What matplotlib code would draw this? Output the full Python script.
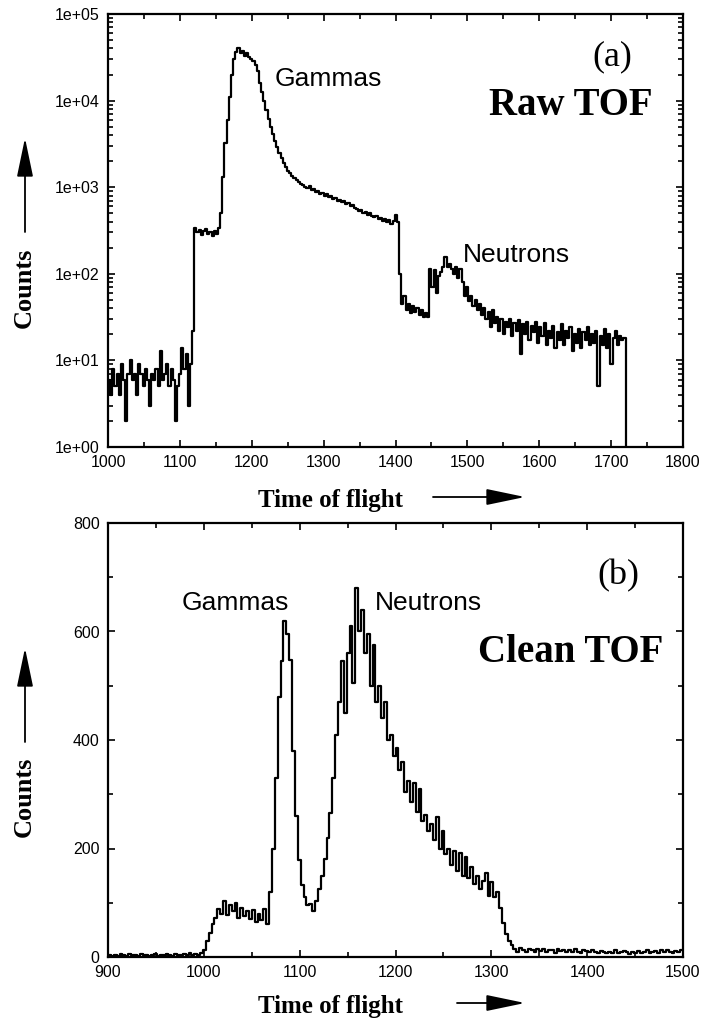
import numpy as np
import matplotlib
matplotlib.use('Agg')
import matplotlib.pyplot as plt
from matplotlib.ticker import MultipleLocator, LogLocator, NullFormatter, FuncFormatter
from matplotlib.patches import FancyArrowPatch

# ---- raw TOF spectrum (log scale), bins of 3 channels starting at 1000 ----
raw_start = 1000
raw_width = 3
raw_counts = [
    6, 4, 8, 5, 7, 4, 9, 6, 2, 7,                      # 1000
    10, 6, 7, 4, 9, 7, 5, 8, 6, 3,                     # 1030
    7, 6, 8, 5, 13, 6, 7, 9, 5, 8,                     # 1060
    6, 2, 5, 7, 14, 8, 12, 3, 9, 22,                   # 1090
    340, 300, 320, 280, 310, 330, 290, 300, 270, 310,  # 1120
    290, 340, 500, 1300, 3200, 6000, 11000, 20000, 30000, 36000,       # 1150
    40000, 35000, 37000, 33000, 35000, 32000, 30000, 29000, 26000, 22000,  # 1180
    16000, 12500, 10000, 7800, 6200, 5000, 4100, 3400, 2900, 2450,     # 1210
    2150, 1900, 1700, 1550, 1450, 1350, 1270, 1200, 1150, 1100,        # 1240
    1060, 1010, 990, 1020, 930, 950, 880, 900, 840, 860,               # 1270
    800, 830, 770, 790, 740, 760, 700, 720, 670, 690,                  # 1300
    640, 660, 610, 620, 570, 560, 530, 550, 500, 520,                  # 1330
    480, 510, 460, 450, 470, 430, 440, 410, 430, 400,                  # 1360
    420, 380, 410, 480, 400, 100, 45, 55, 38, 45,                      # 1390
    35, 42, 36, 40, 33, 38, 32, 35, 32, 115,                           # 1420
    70, 110, 60, 95, 105, 120, 155, 120, 130, 115,                     # 1450
    100, 120, 90, 115, 80, 55, 70, 48, 55, 42,                         # 1480
    50, 38, 45, 33, 40, 30, 36, 24, 38, 27,                            # 1510
    32, 22, 30, 20, 28, 24, 30, 19, 27, 22,                            # 1540
    29, 12, 26, 20, 28, 17, 25, 21, 28, 16,                            # 1570
    24, 19, 27, 15, 22, 18, 25, 14, 21, 17,                            # 1600
    26, 15, 22, 18, 24, 13, 20, 16, 23, 14,                            # 1630
    21, 17, 24, 15, 20, 16, 22, 5, 19, 15,                             # 1660
    23, 14, 20, 9, 18, 22, 15, 19, 17, 18,                             # 1690
    0,                                                                 # 1720
]

# ---- clean TOF spectrum (linear scale), bins of 3 channels starting at 900 ----
clean_start = 900
clean_width = 3
clean_counts = [
    3, 1, 4, 2, 5, 3, 2, 6, 3, 4,                      # 900
    2, 5, 3, 4, 1, 3, 5, 2, 4, 3,                      # 930
    5, 3, 2, 6, 4, 3, 5, 4, 7, 3,                      # 960
    6, 4, 8, 12, 30, 45, 60, 72, 88, 80,               # 990
    104, 78, 96, 84, 100, 72, 90, 76, 84, 70,          # 1020
    86, 64, 80, 68, 88, 60, 120, 200, 330, 480,        # 1050
    545, 620, 595, 548, 380, 260, 178, 132, 110, 96,   # 1080
    98, 85, 104, 125, 150, 180, 220, 265, 330, 410,    # 1110
    470, 545, 450, 560, 610, 505, 680, 600, 640, 560,  # 1140
    595, 500, 575, 470, 500, 440, 470, 400, 410, 370,  # 1170
    385, 345, 360, 305, 325, 285, 320, 268, 310, 250,  # 1200
    262, 232, 245, 215, 258, 200, 232, 190, 200, 170,  # 1230
    195, 158, 192, 150, 185, 145, 165, 135, 150, 125,  # 1260
    140, 155, 112, 138, 110, 120, 90, 62, 42, 30,      # 1290
    22, 14, 10, 16, 12, 9, 15, 13, 10, 14,             # 1320
    11, 15, 9, 13, 12, 8, 14, 11, 13, 10,              # 1350
    12, 9, 14, 10, 8, 12, 11, 9, 13, 10,               # 1380
    8, 11, 9, 7, 10, 8, 12, 7, 9, 11,                  # 1410
    9, 6, 10, 8, 11, 7, 9, 12, 8, 10,                  # 1440
    11, 8, 13, 9, 12, 10, 8, 11, 9, 12,                # 1470
]

W, H = 703, 1021
plt.rcParams['font.family'] = ['Liberation Sans', 'DejaVu Sans']
SERIF = ['Liberation Serif', 'DejaVu Serif']


def fx(px):
    return px / W


def fy(py):
    return 1 - py / H


def draw_hist(ax, start, width, counts):
    counts = np.asarray(counts, dtype=float)
    edges = start + width * np.arange(len(counts) + 1)
    ax.step(edges, np.append(counts, counts[-1]), where='post', color='k', lw=1.6)


def style_axes(ax):
    for sp in ax.spines.values():
        sp.set_linewidth(1.6)
    ax.tick_params(which='both', direction='in', top=True, right=True,
                   width=1.2, labelsize=11.5, colors='k')
    ax.tick_params(which='major', length=5)
    ax.tick_params(which='minor', length=3.5)
    ax.tick_params(axis='y', pad=6)
    ax.tick_params(axis='x', pad=6)


fig = plt.figure(figsize=(7.03, 10.21), dpi=100)

# panel (a): raw spectrum
axa = fig.add_axes([fx(108), fy(447), (683 - 108) / W, (447 - 14) / H])
draw_hist(axa, raw_start, raw_width, raw_counts)
axa.set_yscale('log')
axa.set_xlim(1000, 1800)
axa.set_ylim(1, 1e5)
axa.xaxis.set_major_locator(MultipleLocator(100))
axa.xaxis.set_minor_locator(MultipleLocator(50))
axa.yaxis.set_major_locator(LogLocator(base=10, numticks=10))
axa.yaxis.set_minor_locator(LogLocator(base=10, subs=np.arange(2, 10), numticks=20))
axa.yaxis.set_major_formatter(FuncFormatter(lambda v, p: f"{v:.0e}"))
axa.yaxis.set_minor_formatter(NullFormatter())
style_axes(axa)

# panel (b): cleaned spectrum
axb = fig.add_axes([fx(108), fy(957), (683 - 108) / W, (957 - 523) / H])
draw_hist(axb, clean_start, clean_width, clean_counts)
axb.set_xlim(900, 1500)
axb.set_ylim(0, 800)
axb.xaxis.set_major_locator(MultipleLocator(100))
axb.xaxis.set_minor_locator(MultipleLocator(50))
axb.yaxis.set_major_locator(MultipleLocator(200))
axb.yaxis.set_minor_locator(MultipleLocator(100))
style_axes(axb)

# annotations
fig.text(fx(275), fy(86), 'Gammas', fontsize=19, va='baseline', ha='left')
fig.text(fx(463), fy(262), 'Neutrons', fontsize=19, va='baseline', ha='left')
fig.text(fx(612), fy(65), '(a)', fontsize=26, family=SERIF, va='baseline', ha='center')
fig.text(fx(571), fy(115), 'Raw TOF', fontsize=28, family=SERIF, weight='bold',
         va='baseline', ha='center')

fig.text(fx(182), fy(610), 'Gammas', fontsize=19, va='baseline', ha='left')
fig.text(fx(375), fy(610), 'Neutrons', fontsize=19, va='baseline', ha='left')
fig.text(fx(618), fy(584), '(b)', fontsize=26, family=SERIF, va='baseline', ha='center')
fig.text(fx(571), fy(662), 'Clean TOF', fontsize=28, family=SERIF, weight='bold',
         va='baseline', ha='center')

# axis labels with arrows
for cy, ay0, ay1, by, bx0, bx1 in [(288, 232, 138, 507, 433, 525),
                                    (797, 742, 648, 1013, 457, 525)]:
    fig.text(fx(24), fy(cy), 'Counts', fontsize=19, family=SERIF, weight='bold',
             rotation=90, va='center', ha='center')
    fig.text(fx(258), fy(by), 'Time of flight', fontsize=18, family=SERIF, weight='bold',
             va='baseline', ha='left')
    for p0, p1 in [((fx(25), fy(ay0)), (fx(25), fy(ay1))),
                   ((fx(bx0), fy(by - 10)), (fx(bx1), fy(by - 10)))]:
        fig.add_artist(FancyArrowPatch(p0, p1, transform=fig.transFigure,
                                       arrowstyle='-|>,head_length=2.4,head_width=0.5',
                                       mutation_scale=10, lw=1.3, color='k',
                                       shrinkA=0, shrinkB=0))

fig.savefig('out.png', dpi=100)
